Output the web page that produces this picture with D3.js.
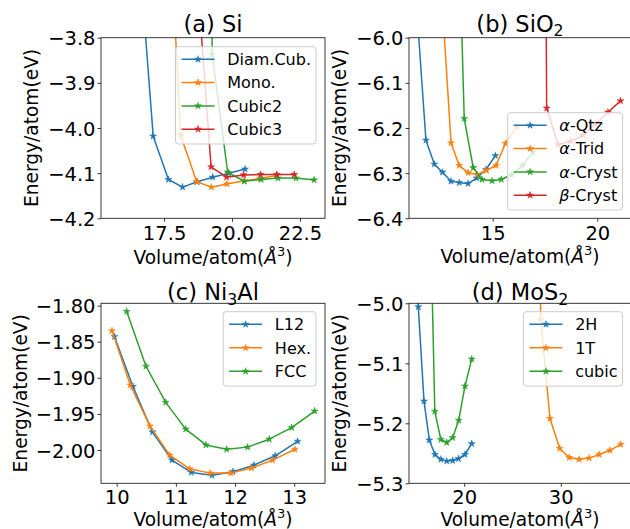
<!DOCTYPE html>
<html>
<head>
<meta charset="utf-8">
<script src="https://cdn.jsdelivr.net/npm/d3@7"></script>
<style>
  body { margin: 0; background: #fff; }
  svg { display: block; }
  text { font-family: "DejaVu Sans", sans-serif; fill: #000; }
</style>
</head>
<body>
<svg id="chart" width="630" height="529"></svg>
<script>
// ---- Energy vs volume data (volume in Å^3/atom, energy in eV/atom) ----

// (a) Si
const siDiamV   = [16.57, 17.10, 17.66, 18.18, 18.72, 19.29, 19.88, 20.48];
const siDiamE   = [-3.60, -4.018, -4.114, -4.131, -4.119, -4.109, -4.100, -4.091];
const siMonoV   = [17.57, 18.11, 18.70, 19.24, 19.81, 20.45, 21.03, 21.64];
const siMonoE   = [-3.38, -4.016, -4.119, -4.131, -4.124, -4.117, -4.112, -4.105];
const siCub2V   = [19.22, 19.27, 19.84, 20.45, 21.07, 21.69, 22.35, 23.02];
const siCub2E   = [-3.40, -3.837, -4.098, -4.118, -4.114, -4.111, -4.111, -4.115];
const siCub3V   = [18.67, 19.23, 19.80, 20.43, 21.05, 21.65, 22.29];
const siCub3E   = [-3.628, -4.086, -4.109, -4.104, -4.103, -4.103, -4.103];

// (b) SiO2
const qtzV      = [11.24, 11.81, 12.21, 12.60, 13.01, 13.40, 13.82, 14.23, 14.68, 15.13];
const qtzE      = [-5.85, -6.227, -6.280, -6.298, -6.318, -6.321, -6.323, -6.311, -6.292, -6.261];
const tridV     = [12.62, 13.01, 13.40, 13.82, 14.26, 14.70, 15.16, 15.61, 16.16];
const tridE     = [-5.946, -6.233, -6.283, -6.299, -6.303, -6.294, -6.283, -6.234, -6.197];
const crystAV   = [13.34, 13.64, 14.07, 14.49, 14.97, 15.41, 15.92, 16.42, 16.91];
const crystAE   = [-5.69, -6.179, -6.288, -6.314, -6.317, -6.314, -6.303, -6.283, -6.254];
const crystBV   = [17.50, 17.58, 18.13, 18.73, 19.31, 19.91, 20.51, 21.11];
const crystBE   = [-5.50, -6.156, -6.237, -6.229, -6.216, -6.191, -6.165, -6.140];

// (c) Ni3Al
const l12V      = [9.963, 10.275, 10.605, 10.934, 11.26, 11.61, 11.965, 12.319, 12.679, 13.057];
const l12E      = [-1.843, -1.912, -1.975, -2.014, -2.031, -2.035, -2.030, -2.021, -2.008, -1.988];
const hexV      = [9.921, 10.23, 10.5625, 10.895, 11.233, 11.576, 11.926, 12.28, 12.635, 13.012];
const hexE      = [-1.835, -1.910, -1.967, -2.007, -2.026, -2.032, -2.032, -2.025, -2.014, -1.999];
const fccV      = [10.169, 10.495, 10.829, 11.166, 11.508, 11.858, 12.213, 12.578, 12.956, 13.345];
const fccE      = [-1.808, -1.884, -1.934, -1.971, -1.993, -1.999, -1.996, -1.985, -1.969, -1.946];

// (d) MoS2
const mo2HV     = [14.75, 15.25, 15.84, 16.39, 16.98, 17.58, 18.19, 18.81, 19.41, 20.08, 20.78];
const mo2HE     = [-4.75, -5.006, -5.163, -5.228, -5.252, -5.260, -5.263, -5.262, -5.259, -5.252, -5.234];
const mo1TV     = [27.69, 27.92, 28.88, 29.89, 30.87, 31.90, 32.94, 33.98, 35.09, 36.21];
const mo1TE     = [-4.70, -5.027, -5.192, -5.242, -5.257, -5.260, -5.258, -5.252, -5.245, -5.235];
const moCubV    = [16.36, 16.96, 17.58, 18.19, 18.81, 19.43, 20.08, 20.78];
const moCubE    = [-4.75, -5.180, -5.227, -5.232, -5.224, -5.195, -5.138, -5.093];

// ---- Tick values ----
const siXTicks   = [17.5, 20.0, 22.5];
const siYTicks   = [-3.8, -3.9, -4.0, -4.1, -4.2];
const sio2XTicks = [15, 20];
const sio2YTicks = [-6.0, -6.1, -6.2, -6.3, -6.4];
const niXTicks   = [10, 11, 12, 13];
const niYTicks   = [-1.80, -1.85, -1.90, -1.95, -2.00];
const moXTicks   = [20, 30];
const moYTicks   = [-5.0, -5.1, -5.2, -5.3];

// ---- Legend labels ([text, style] runs) ----
const siLabels   = [[["Diam.Cub.", ""]], [["Mono.", ""]], [["Cubic2", ""]], [["Cubic3", ""]]];
const sio2Labels = [[["α", "it"], ["-Qtz", ""]], [["α", "it"], ["-Trid", ""]],
                    [["α", "it"], ["-Cryst", ""]], [["β", "it"], ["-Cryst", ""]]];
const niLabels   = [[["L12", ""]], [["Hex.", ""]], [["FCC", ""]]];
const moLabels   = [[["2H", ""]], [["1T", ""]], [["cubic", ""]]];

const colors = ["#1f77b4", "#ff7f0e", "#2ca02c", "#d62728"];
const minus = s => s.replace("-", "\u2212");

const FS_TICK = 19.5, FS_LABEL = 18.6, FS_TITLE = 22.5, FS_LEG = 16;

const svg = d3.select("#chart");
const defs = svg.append("defs");
const star = d3.symbol(d3.symbolStar, 15)();

// Append styled text runs (italic, sub- and superscripts) to a text element.
function addRuns(textSel, runs, fs) {
  let shift = 0;
  runs.forEach(([t, kind]) => {
    const ts = textSel.append("tspan").text(t);
    let target = 0;
    if (kind === "sub") { ts.attr("font-size", fs * 0.7); target = 0.2 * fs; }
    else if (kind === "sup") { ts.attr("font-size", fs * 0.7); target = -0.42 * fs; }
    else if (kind === "it") { ts.attr("font-style", "italic"); }
    if (target !== shift) { ts.attr("dy", target - shift); shift = target; }
  });
}

const panels = [
  { id: "a", left: 101, right: 325, top: 37.7, bottom: 218.3,
    xDomain: [15.18, 23.42], yDomain: [-4.2, -3.8],
    xTicks: siXTicks, yTicks: siYTicks, xFmt: d3.format(".1f"), yFmt: d3.format(".1f"),
    series: [[siDiamV, siDiamE], [siMonoV, siMonoE], [siCub2V, siCub2E], [siCub3V, siCub3E]],
    labels: siLabels, title: [["(a) Si", ""]], titleY: 32,
    xTickBase: 240.5, xLabelY: 263.5, yLabelX: 37.5,
    legend: { right: 316, top: 46.7, step: 23.3 } },
  { id: "b", left: 409, right: 631, top: 37.7, bottom: 218.3,
    xDomain: [11.0, 21.61], yDomain: [-6.4, -6.0],
    xTicks: sio2XTicks, yTicks: sio2YTicks, xFmt: d3.format("d"), yFmt: d3.format(".1f"),
    series: [[qtzV, qtzE], [tridV, tridE], [crystAV, crystAE], [crystBV, crystBE]],
    labels: sio2Labels, title: [["(b) SiO", ""], ["2", "sub"]], titleY: 31.5,
    xTickBase: 240, xLabelY: 263, yLabelX: 345.5,
    legend: { right: 622.5, bottom: 210, step: 23.3 } },
  { id: "c", left: 101, right: 325, top: 303.3, bottom: 483.3,
    xDomain: [9.735, 13.52], yDomain: [-2.0461, -1.7968],
    xTicks: niXTicks, yTicks: niYTicks, xFmt: d3.format("d"), yFmt: d3.format(".2f"),
    series: [[l12V, l12E], [hexV, hexE], [fccV, fccE]],
    labels: niLabels, title: [["(c) Ni", ""], ["3", "sub"], ["Al", ""]], titleY: 300,
    xTickBase: 504, xLabelY: 526.2, yLabelX: 27.2,
    legend: { right: 316, top: 311.7, step: 23.5 } },
  { id: "d", left: 409, right: 631, top: 303.3, bottom: 483.3,
    xDomain: [14.286, 37.27], yDomain: [-5.3, -5.0],
    xTicks: moXTicks, yTicks: moYTicks, xFmt: d3.format("d"), yFmt: d3.format(".1f"),
    series: [[mo2HV, mo2HE], [mo1TV, mo1TE], [moCubV, moCubE]],
    labels: moLabels, title: [["(d) MoS", ""], ["2", "sub"]], titleY: 300,
    xTickBase: 504, xLabelY: 526.2, yLabelX: 345.5,
    legend: { right: 622.5, top: 311.7, step: 23.5 } }
];

function drawPanel(p) {
  const g = svg.append("g");
  const x = d3.scaleLinear().domain(p.xDomain).range([p.left, p.right]);
  const y = d3.scaleLinear().domain(p.yDomain).range([p.bottom, p.top]);

  defs.append("clipPath").attr("id", "clip-" + p.id).append("rect")
    .attr("x", p.left).attr("y", p.top)
    .attr("width", p.right - p.left).attr("height", p.bottom - p.top);

  // curves with star markers
  const plot = g.append("g").attr("clip-path", `url(#clip-${p.id})`);
  p.series.forEach(([vs, es], i) => {
    const pts = vs.map((v, j) => [v, es[j]]);
    plot.append("path").datum(pts)
      .attr("fill", "none").attr("stroke", colors[i]).attr("stroke-width", 1.5)
      .attr("stroke-linejoin", "round")
      .attr("d", d3.line().x(d => x(d[0])).y(d => y(d[1])));
    plot.append("g").selectAll("path").data(pts).join("path")
      .attr("transform", d => `translate(${x(d[0])},${y(d[1])})`)
      .attr("d", star).attr("fill", colors[i]).attr("stroke", colors[i]).attr("stroke-width", 0.5);
  });

  // axes
  const tickLen = 3.5;
  const xAxis = g.append("g").attr("transform", `translate(0,${p.bottom})`)
    .call(d3.axisBottom(x).tickValues(p.xTicks).tickFormat(d => minus(p.xFmt(d)))
      .tickSizeInner(tickLen).tickSizeOuter(0));
  xAxis.select(".domain").remove();
  xAxis.selectAll("line").attr("stroke", "#222").attr("stroke-width", 0.9);
  xAxis.selectAll("text").attr("y", p.xTickBase - p.bottom).attr("dy", null)
    .attr("font-size", FS_TICK).attr("font-family", "DejaVu Sans").attr("fill", "#000");

  const yAxis = g.append("g").attr("transform", `translate(${p.left},0)`)
    .call(d3.axisLeft(y).tickValues(p.yTicks).tickFormat(d => minus(p.yFmt(d)))
      .tickSizeInner(tickLen).tickSizeOuter(0).tickPadding(2));
  yAxis.select(".domain").remove();
  yAxis.selectAll("line").attr("stroke", "#222").attr("stroke-width", 0.9);
  yAxis.selectAll("text").attr("dy", "0.36em")
    .attr("font-size", FS_TICK).attr("font-family", "DejaVu Sans").attr("fill", "#000");

  // spines
  g.append("rect").attr("x", p.left).attr("y", p.top)
    .attr("width", p.right - p.left).attr("height", p.bottom - p.top)
    .attr("fill", "none").attr("stroke", "#222").attr("stroke-width", 0.9);

  // title
  const cx = (p.left + p.right) / 2;
  const t = g.append("text").attr("x", cx).attr("y", p.titleY)
    .attr("text-anchor", "middle").attr("font-size", FS_TITLE);
  addRuns(t, p.title, FS_TITLE);

  // axis labels
  const xl = g.append("text").attr("x", cx).attr("y", p.xLabelY)
    .attr("text-anchor", "middle").attr("font-size", FS_LABEL);
  addRuns(xl, [["Volume/atom(", ""], ["Å", "it"], ["3", "sup"], [")", ""]], FS_LABEL);

  g.append("text")
    .attr("transform", `translate(${p.yLabelX},${(p.top + p.bottom) / 2}) rotate(-90)`)
    .attr("text-anchor", "middle").attr("font-size", FS_LABEL)
    .text("Energy/atom(eV)");

  // legend
  const L = p.legend, n = p.labels.length;
  const lg = g.append("g");
  const tmp = lg.append("g");
  let maxW = 0;
  p.labels.forEach(runs => {
    const tt = tmp.append("text").attr("font-size", FS_LEG);
    addRuns(tt, runs, FS_LEG);
    maxW = Math.max(maxW, tt.node().getComputedTextLength());
  });
  tmp.remove();
  const padL = 6, handle = 33, gap = 12.7, padR = 5;
  const w = padL + handle + gap + maxW + padR;
  const h = 12.6 + (n - 1) * L.step + 14.8;
  const top = L.top !== undefined ? L.top : L.bottom - h;
  const left = L.right - w;
  lg.append("rect").attr("x", left).attr("y", top).attr("width", w).attr("height", h)
    .attr("rx", 3).attr("fill", "#fff").attr("fill-opacity", 0.8)
    .attr("stroke", "#ccc").attr("stroke-width", 1);
  p.labels.forEach((runs, i) => {
    const yy = top + 12.6 + i * L.step;
    const x0 = left + padL;
    lg.append("line").attr("x1", x0).attr("x2", x0 + handle).attr("y1", yy).attr("y2", yy)
      .attr("stroke", colors[i]).attr("stroke-width", 1.5);
    lg.append("path").attr("transform", `translate(${x0 + handle / 2},${yy})`)
      .attr("d", star).attr("fill", colors[i]).attr("stroke", colors[i]).attr("stroke-width", 0.5);
    const tt = lg.append("text").attr("x", x0 + handle + gap).attr("y", yy)
      .attr("dy", "0.36em").attr("font-size", FS_LEG);
    addRuns(tt, runs, FS_LEG);
  });
}

panels.forEach(drawPanel);
</script>
</body>
</html>
